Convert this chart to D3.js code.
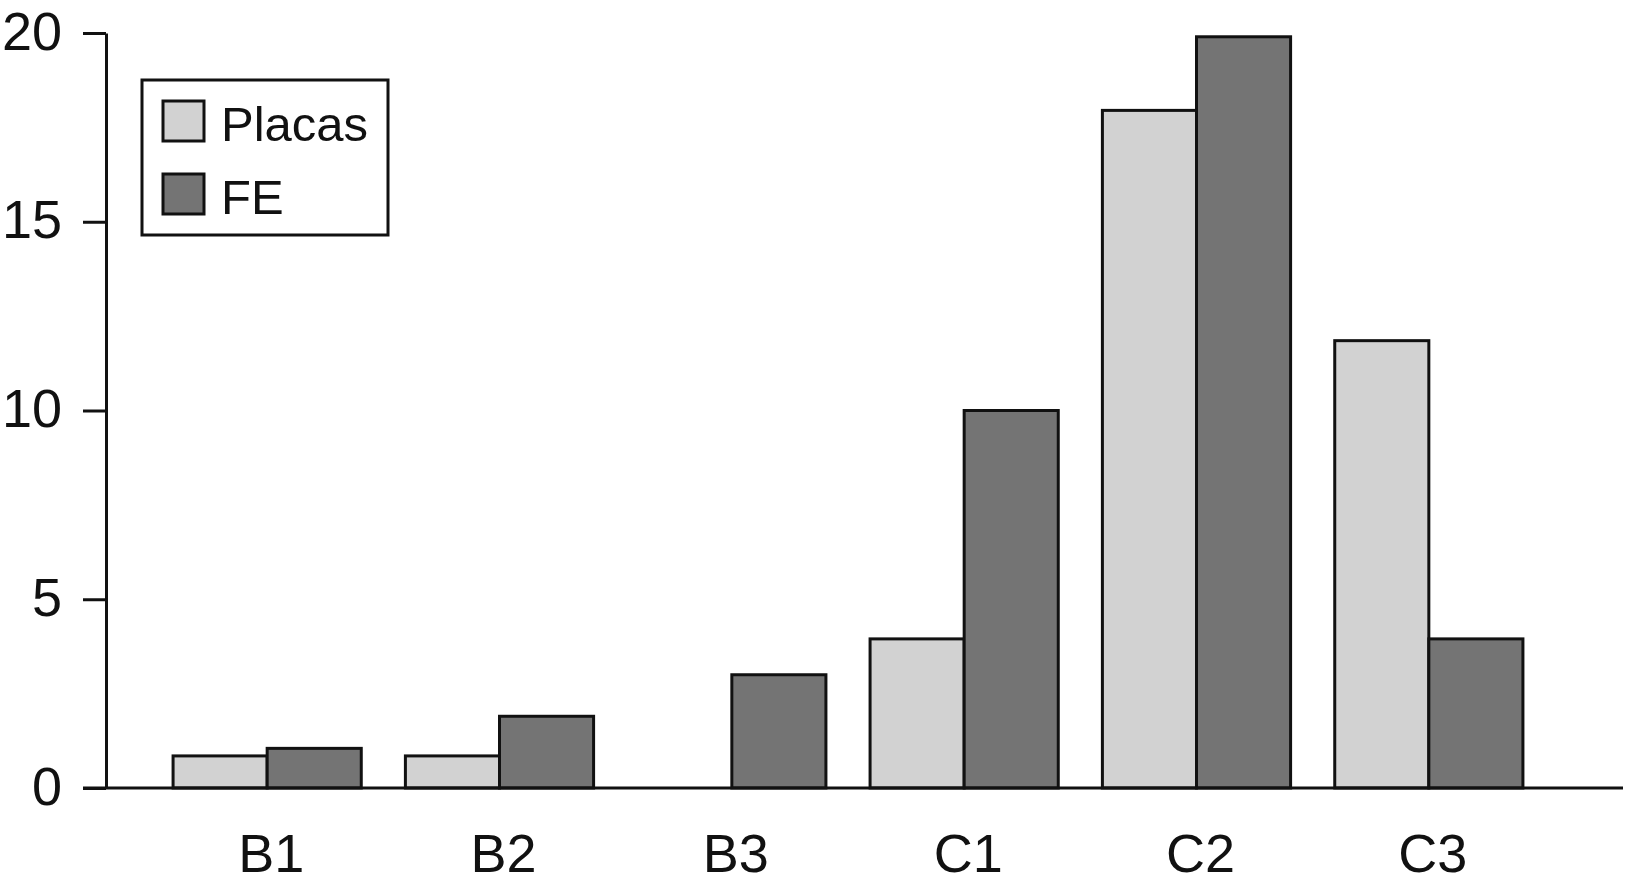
<!DOCTYPE html>
<html>
<head>
<meta charset="utf-8">
<script src="https://cdn.jsdelivr.net/npm/d3@7"></script>
<style>
  html, body { margin: 0; padding: 0; background: #fff; }
  svg { display: block; }
  text { font-family: Arial, "Liberation Sans", Helvetica, sans-serif; fill: #111; }
</style>
</head>
<body>
<svg id="chart" width="1628" height="892"></svg>
<script>
const categories = ["B1", "B2", "B3", "C1", "C2", "C3"];
const seriesNames = ["Placas", "FE"];
const placas = [0.85, 0.85, 0, 3.95, 17.95, 11.85];
const fe = [1.05, 1.9, 3.0, 10.0, 19.9, 3.95];
const yTicks = [0, 5, 10, 15, 20];
const colors = ["#d2d2d2", "#747474"];

const svg = d3.select("#chart");
const yAxisX = 106, baseY = 788, topY = 33;

const y = d3.scaleLinear().domain([0, 20]).range([baseY, topY]);
const x0 = d3.scaleBand().domain(categories).range([151, 1545])
  .paddingInner(0.19).paddingOuter(0.095);
const x1 = d3.scaleBand().domain(seriesNames).range([0, x0.bandwidth()]).padding(0);

const data = categories.map((c, i) => ({ cat: c, vals: [placas[i], fe[i]] }));

// bars
const groups = svg.append("g").selectAll("g").data(data).join("g")
  .attr("transform", d => `translate(${x0(d.cat)},0)`);
groups.selectAll("rect")
  .data(d => d.vals.map((v, j) => ({ s: seriesNames[j], v, j })).filter(e => e.v > 0))
  .join("rect")
  .attr("x", e => x1(e.s))
  .attr("width", x1.bandwidth())
  .attr("y", e => y(e.v))
  .attr("height", e => baseY - y(e.v))
  .attr("fill", e => colors[e.j])
  .attr("stroke", "#111")
  .attr("stroke-width", 3);

// y axis
const yAxis = d3.axisLeft(y).tickValues(yTicks).tickSize(23).tickPadding(21).tickSizeOuter(0);
const gy = svg.append("g").attr("transform", `translate(${yAxisX},0)`).call(yAxis);
gy.select(".domain").attr("stroke", "#111").attr("stroke-width", 3);
gy.selectAll(".tick line").attr("stroke", "#111").attr("stroke-width", 3);
gy.selectAll(".tick text").attr("font-size", 54).attr("font-family", "Arial, 'Liberation Sans', sans-serif")
  .attr("fill", "#111").attr("dy", "0.3em");

// x axis baseline
const xAxis = d3.axisBottom(x0).tickSize(0).tickPadding(46);
const gx = svg.append("g").attr("transform", `translate(0,${baseY})`).call(xAxis);
gx.select(".domain").remove();
gx.append("line").attr("x1", 83).attr("x2", 1623).attr("y1", 0).attr("y2", 0)
  .attr("stroke", "#111").attr("stroke-width", 3);
gx.selectAll(".tick text").attr("font-size", 54).attr("font-family", "Arial, 'Liberation Sans', sans-serif")
  .attr("fill", "#111").attr("dy", "0.71em").attr("dx", 4);

// legend
const lg = svg.append("g");
lg.append("rect").attr("x", 142).attr("y", 80).attr("width", 246).attr("height", 155)
  .attr("fill", "#fff").attr("stroke", "#111").attr("stroke-width", 3);
seriesNames.forEach((s, i) => {
  const yy = 101 + i * 73;
  lg.append("rect").attr("x", 163).attr("y", yy).attr("width", 41).attr("height", 40)
    .attr("fill", colors[i]).attr("stroke", "#111").attr("stroke-width", 3);
  lg.append("text").attr("x", 221).attr("y", yy + 40).attr("font-size", 49).text(s);
});
</script>
</body>
</html>
